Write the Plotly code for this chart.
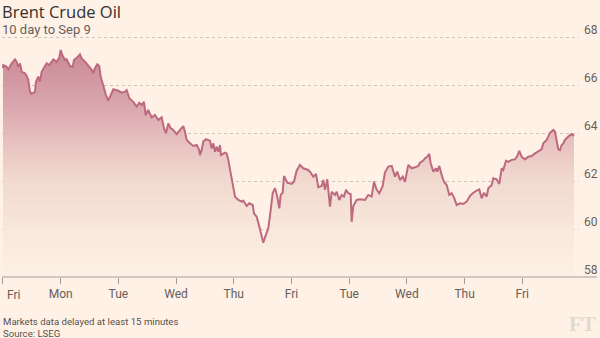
import plotly.graph_objects as go

# Brent crude, intraday trace over the last 10 trading sessions
# t = position in trading days from the first session (Fri), price in $/bbl
t = [0.000, 0.005, 0.064, 0.092, 0.151, 0.208, 0.237, 0.265, 0.295, 0.324,
     0.381, 0.411, 0.438, 0.468, 0.497, 0.555, 0.572, 0.612, 0.641, 0.671,
     0.728, 0.757, 0.802, 0.844, 0.872, 0.931, 0.976, 1.000, 1.028, 1.075,
     1.104, 1.161, 1.208, 1.231, 1.288, 1.334, 1.364, 1.421, 1.478, 1.537,
     1.565, 1.594, 1.634, 1.669, 1.693, 1.738, 1.785, 1.825, 1.884, 1.912,
     1.998, 2.057, 2.114, 2.144, 2.189, 2.258, 2.317, 2.362, 2.404, 2.444,
     2.473, 2.518, 2.577, 2.634, 2.692, 2.750, 2.790, 2.825, 2.865, 2.906,
     2.951, 3.010, 3.068, 3.125, 3.154, 3.184, 3.241, 3.298, 3.357, 3.402,
     3.414, 3.444, 3.471, 3.518, 3.588, 3.617, 3.645, 3.674, 3.704, 3.731,
     3.761, 3.778, 3.847, 3.877, 3.905, 3.964, 4.021, 4.078, 4.137, 4.165,
     4.224, 4.269, 4.328, 4.350, 4.397, 4.442, 4.484, 4.511, 4.541, 4.598,
     4.640, 4.674, 4.714, 4.754, 4.789, 4.813, 4.847, 4.870, 4.927, 5.003,
     5.043, 5.090, 5.147, 5.205, 5.291, 5.333, 5.378, 5.425, 5.464, 5.523,
     5.551, 5.581, 5.620, 5.667, 5.697, 5.754, 5.783, 5.828, 5.870, 5.910,
     5.945, 5.984, 6.026, 6.043, 6.071, 6.130, 6.187, 6.274, 6.331, 6.390,
     6.430, 6.477, 6.522, 6.581, 6.620, 6.678, 6.737, 6.794, 6.834, 6.880,
     6.927, 6.967, 7.024, 7.083, 7.140, 7.198, 7.227, 7.284, 7.314, 7.354,
     7.388, 7.412, 7.458, 7.504, 7.527, 7.562, 7.603, 7.643, 7.690, 7.735,
     7.776, 7.816, 7.863, 7.920, 7.977, 8.036, 8.094, 8.151, 8.210, 8.255,
     8.296, 8.336, 8.383, 8.411, 8.470, 8.497, 8.556, 8.601, 8.643, 8.671,
     8.718, 8.758, 8.816, 8.874, 8.914, 8.948, 8.990, 9.047, 9.104, 9.163,
     9.220, 9.277, 9.336, 9.364, 9.423, 9.480, 9.537, 9.567, 9.596, 9.624,
     9.653, 9.683, 9.711, 9.740, 9.797, 9.856, 9.896]

price = [66.70, 66.83, 66.76, 66.65, 66.90, 67.07, 66.97, 66.76, 66.90, 66.55,
         66.49, 66.38, 66.21, 65.72, 65.63, 65.72, 66.14, 66.35, 66.14, 66.55,
         66.79, 66.90, 66.83, 67.01, 67.07, 66.97, 67.15, 67.46, 67.25, 67.04,
         67.07, 66.79, 66.76, 67.04, 67.15, 67.28, 67.11, 66.97, 66.79, 66.63,
         66.49, 66.70, 66.86, 66.79, 66.35, 65.93, 65.58, 65.35, 65.65, 65.82,
         65.76, 65.68, 65.72, 65.79, 65.45, 65.30, 65.10, 65.26, 65.17, 65.30,
         64.75, 64.96, 64.65, 64.75, 64.54, 64.65, 64.20, 63.99, 64.40, 64.20,
         64.13, 63.95, 64.13, 64.29, 64.05, 63.71, 63.57, 63.46, 63.50, 63.29,
         63.08, 63.29, 63.64, 63.74, 63.68, 63.36, 63.57, 63.22, 63.43, 63.22,
         63.50, 63.08, 63.18, 63.15, 62.88, 62.11, 61.35, 61.21, 61.14, 61.18,
         60.96, 61.07, 61.00, 60.65, 60.51, 60.10, 59.75, 59.43, 59.65, 60.03,
         60.79, 61.49, 61.70, 61.35, 60.86, 61.42, 61.51, 62.21, 61.93, 61.88,
         61.97, 62.43, 62.67, 62.53, 62.46, 62.35, 62.18, 62.29, 61.74, 61.79,
         62.04, 61.63, 62.07, 60.93, 61.55, 61.42, 61.55, 61.21, 61.42, 61.35,
         61.63, 61.49, 61.46, 60.30, 60.96, 61.21, 61.24, 61.21, 61.42, 61.35,
         61.97, 61.63, 61.49, 61.79, 62.35, 62.60, 62.63, 62.18, 62.39, 62.04,
         62.18, 61.97, 62.67, 62.53, 62.57, 62.63, 62.76, 62.85, 62.95, 63.01,
         63.13, 62.74, 62.39, 62.53, 62.39, 62.63, 62.25, 61.97, 61.83, 61.42,
         61.49, 61.32, 61.00, 61.07, 61.04, 61.14, 61.38, 61.51, 61.60, 61.65,
         61.28, 61.51, 61.35, 61.70, 61.83, 62.11, 62.07, 61.88, 62.53, 62.46,
         62.85, 62.80, 62.88, 62.90, 63.04, 63.26, 63.01, 62.90, 63.01, 63.04,
         63.15, 63.22, 63.32, 63.57, 63.71, 64.01, 64.13, 64.05, 63.71, 63.32,
         63.29, 63.50, 63.57, 63.71, 63.85, 63.96, 63.88]

day_ticks = [0, 1, 2, 3, 4, 5, 6, 7, 8, 9]
day_labels = ["Fri", "Mon", "Tue", "Wed", "Thu", "Fri", "Tue", "Wed", "Thu", "Fri"]
price_ticks = [58, 60, 62, 64, 66, 68]

BG = "#fff1e5"
LINE = "#bd6a80"
AXIS = "#a39d97"
TEXT = "#66605c"
FONT = "Roboto"

fig = go.Figure()
fig.add_trace(go.Scatter(
    x=t, y=price, mode="lines",
    line=dict(color=LINE, width=2),
    fill="tozeroy",
    fillgradient=dict(
        type="vertical", start=58, stop=67.5,
        colorscale=[[0.0, "#fdf0e4"], [0.2, "#f9e8dc"], [0.42, "#f1d9cf"],
                    [0.58, "#e8c3c1"], [0.75, "#daa6ad"], [1.0, "#c98895"]],
    ),
    hoverinfo="skip", showlegend=False,
))

# plot area spans rows 25..277 (24 px per dollar), so the 68 grid line
# sits inside the frame rather than on its top edge
fig.update_layout(
    width=600, height=338, autosize=False,
    margin=dict(l=2, r=21, t=25, b=61),
    paper_bgcolor=BG, plot_bgcolor=BG,
    font=dict(family=FONT, color=TEXT, size=12),
    xaxis=dict(
        range=[-0.017, 9.983],
        tickvals=day_ticks,
        ticktext=[""] + day_labels[1:],
        ticks="outside", ticklen=6, tickwidth=1, tickcolor=AXIS,
        showgrid=False, zeroline=False, showline=False,
        tickfont=dict(size=12, color=TEXT),
        fixedrange=True,
    ),
    yaxis=dict(
        range=[58, 68.5], side="right",
        tickvals=price_ticks,
        showgrid=True, gridcolor="#cdc3b9", gridwidth=1, griddash="dot",
        zeroline=False, showline=False, ticks="",
        tickfont=dict(size=12, color=TEXT),
        ticklabelshift=-7, ticklabelstandoff=4,
        fixedrange=True,
    ),
)

# baseline axis runs under the right-hand price labels
fig.add_shape(type="line", xref="paper", yref="paper",
              x0=0, x1=1.0312, y0=0, y1=0,
              line=dict(color=AXIS, width=1.2), layer="above")

# paper y for a pixel row: plot area spans rows 25..277
def py(row):
    return (277 - row) / 252

ann = [
    dict(text="Brent Crude Oil", x=-0.004, y=py(11.5), xanchor="left", yanchor="middle",
         font=dict(size=16.5, color="#33302e", family="Open Sans")),
    dict(text="10 day to Sep 9", x=-0.0035, y=py(29.5), xanchor="left", yanchor="middle",
         font=dict(size=13, color=TEXT)),
    dict(text="Markets data delayed at least 15 minutes<br>Source: LSEG",
         x=-0.0015, y=py(327.5), xanchor="left", yanchor="middle", align="left",
         font=dict(size=9.6, color="#57514c")),
    dict(text="FT", x=1.0312, y=py(324), xanchor="right", yanchor="middle", borderpad=0,
         font=dict(size=21, color="#e3d9cc", family="Liberation Serif", weight="bold")),
]
for a in ann:
    a.update(xref="paper", yref="paper", showarrow=False)
    fig.add_annotation(**a)

# first session label sits just right of its tick so it stays on the page
fig.add_annotation(text=day_labels[0], x=day_ticks[0], xref="x", y=0, yref="paper",
                   xanchor="left", yanchor="top", xshift=2, yshift=-9,
                   showarrow=False, font=dict(size=12, color=TEXT))

fig.write_html("out.html")
